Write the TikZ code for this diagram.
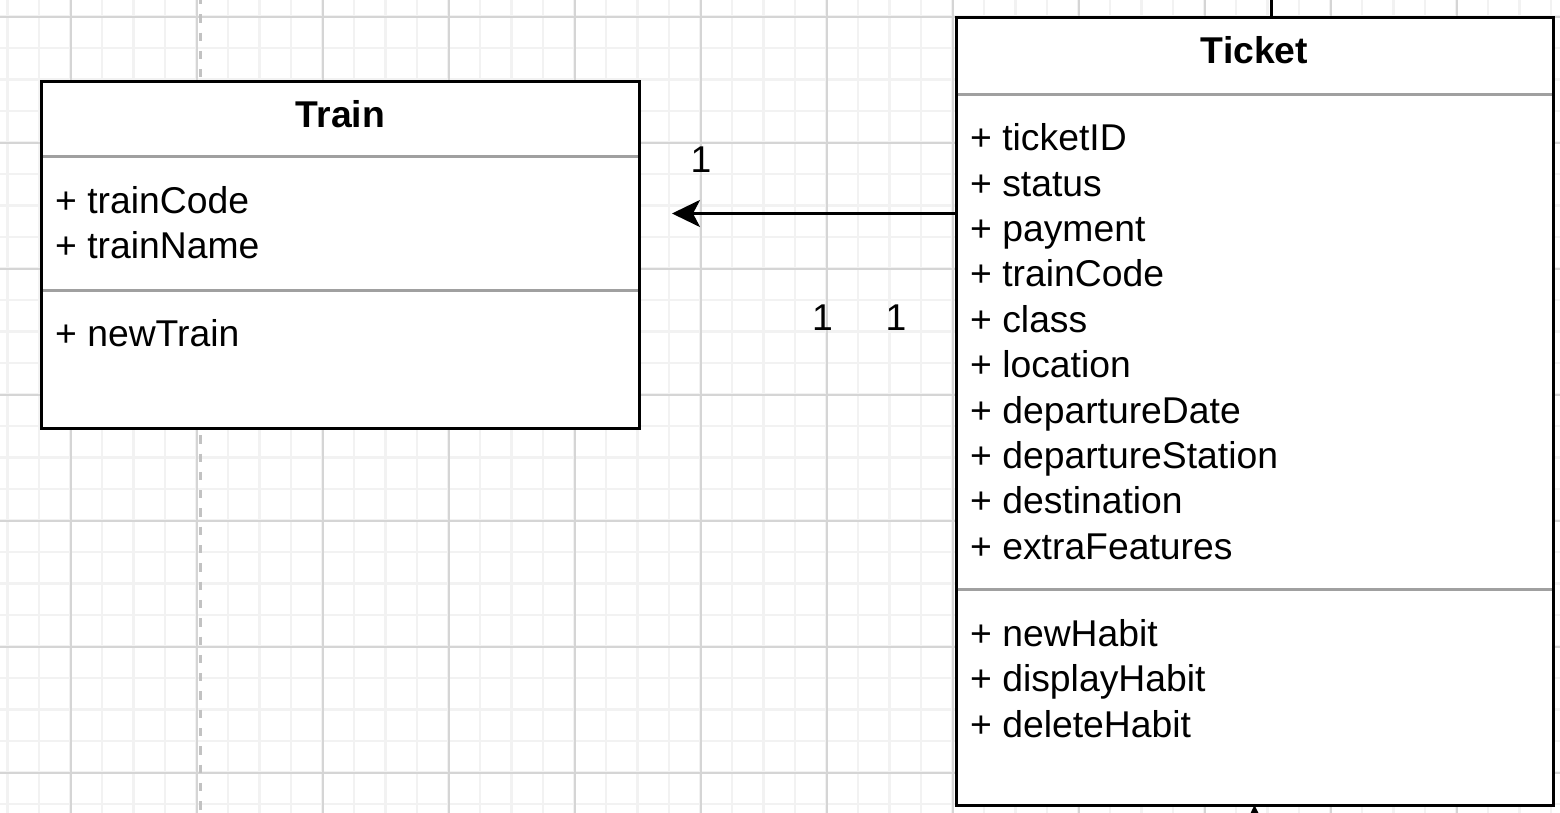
\documentclass[tikz,border=0pt]{standalone}
\usepackage{fontspec}
\setmainfont{Liberation Sans}
\usetikzlibrary{arrows.meta}
\definecolor{gridminor}{HTML}{F2F2F2}
\definecolor{gridmajor}{HTML}{D5D5D5}
\definecolor{sepgray}{HTML}{A0A0A0}
\definecolor{dashgray}{HTML}{C2C2C2}
\tikzset{
  classbox/.style={draw=black, fill=white, line width=3pt, inner sep=0pt, outer sep=0pt, anchor=north west},
  sepline/.style={draw=sepgray, line width=3pt},
  member/.style={anchor=base west, inner sep=0pt, font=\fontsize{37.3}{45}\selectfont},
  classtitle/.style={anchor=base, inner sep=0pt, font=\fontsize{37.3}{45}\selectfont\bfseries},
  mult/.style={anchor=base, inner sep=0pt, font=\fontsize{37.3}{45}\selectfont},
  assoc/.style={draw=black, line width=3pt, -{Stealth[length=28pt,width=27pt,inset=7pt]}},
  plainline/.style={draw=black, line width=3pt},
  minorgrid/.style={draw=gridminor, line width=2.5pt},
  majorgrid/.style={draw=gridmajor, line width=1.8pt},
  guide/.style={draw=dashgray, line width=3pt, dash pattern=on 8.3pt off 10pt}
}
\begin{document}
\begin{tikzpicture}[x=1pt, y=-1pt]
\useasboundingbox (0,0) rectangle (1560,813);
\clip (0,0) rectangle (1560,813);
\fill[white] (0,0) rectangle (1560,813);
% grid
\foreach \i in {0,...,49} \draw[minorgrid] ({7.7+31.5*\i},0) -- ++(0,813);
\foreach \i in {0,...,25} \draw[minorgrid] (0,{16.7+31.5*\i}) -- ++(1560,0);
\foreach \i in {0,...,11} \draw[majorgrid] ({70.7+126*\i},0) -- ++(0,813);
\foreach \i in {0,...,6} \draw[majorgrid] (0,{16.7+126*\i}) -- ++(1560,0);
% dashed guide
\draw[guide] (200,-4) -- (200,820);

% Train class
\node[classbox, minimum width=598pt, minimum height=346.5pt] (train) at (41.5,81.5) {};
\node[classtitle] (trainTitle) at (340.5,127.7) {Train};
\draw[sepline] (43,157) -- (638,157);
\node[member] (tA1) at (55,213.3) {+ trainCode};
\node[member] (tA2) at (55,258.5) {+ trainName};
\draw[sepline] (43,290) -- (638,290);
\node[member] (tM1) at (55,346) {+ newTrain};

% Ticket class
\node[classbox, minimum width=597pt, minimum height=787pt] (ticket) at (956,18) {};
\node[classtitle] (ticketTitle) at (1254.5,63.3) {Ticket};
\draw[sepline] (957.5,95) -- (1551.5,95);
\foreach \t [count=\k from 0] in {ticketID,status,payment,trainCode,class,location,departureDate,departureStation,destination,extraFeatures}
  \node[member] (kA\k) at (970,{150.7+45.4*\k}) {+ \t};
\draw[sepline] (957.5,589.3) -- (1551.5,589.3);
\foreach \t [count=\k from 0] in {newHabit,displayHabit,deleteHabit}
  \node[member] (kM\k) at (970,{646.5+45.4*\k}) {+ \t};

% connectors
\coordinate (arrowEnd) at (672,213.5);
\draw[assoc] ([yshift=-195.5pt]ticket.north west) -- (arrowEnd);
\coordinate (belowEnd) at (1254.5,900);
\draw[assoc] (belowEnd) -- (ticket.south);
\coordinate (aboveEnd) at (1271,-50);
\draw[plainline] (ticket.north -| aboveEnd) -- (aboveEnd);

% multiplicities
\node[mult] (m1) at (701,172.3) {1};
\node[mult] (m2) at (822.5,330.5) {1};
\node[mult] (m3) at (896,330.5) {1};
\end{tikzpicture}
\end{document}
